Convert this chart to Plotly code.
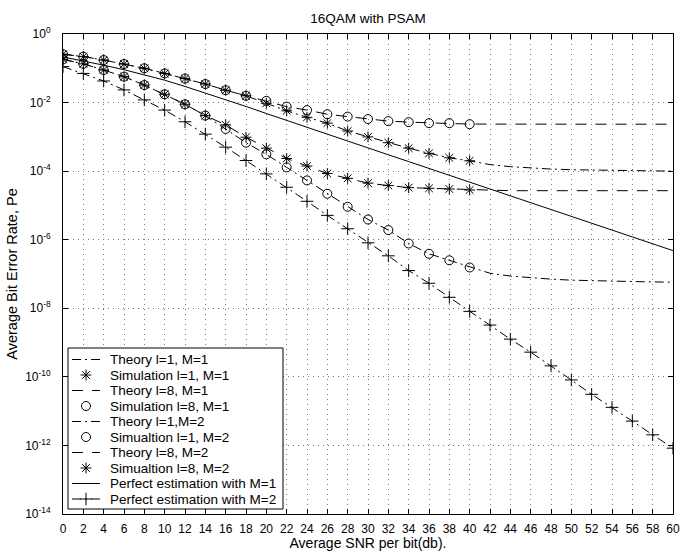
import plotly.graph_objects as go

# SNR grids (dB)
snr_theory = list(range(0, 61, 2))
snr_sim = list(range(0, 41, 2))

# Theory curves (0..60 dB)
theory_l1_m1 = [2.57e-1, 2.19e-1, 1.74e-1, 1.33e-1, 1.00e-1, 7.08e-2, 5.01e-2, 3.47e-2,
                2.29e-2, 1.58e-2, 9.55e-3, 5.75e-3, 3.72e-3, 2.51e-3, 1.48e-3, 1.00e-3,
                6.76e-4, 4.68e-4, 3.31e-4, 2.45e-4, 2.00e-4, 1.55e-4, 1.35e-4, 1.23e-4,
                1.15e-4, 1.10e-4, 1.07e-4, 1.05e-4, 1.02e-4, 1.01e-4, 1.00e-4]
theory_l8_m1 = [2.57e-1, 2.19e-1, 1.74e-1, 1.33e-1, 1.00e-1, 7.08e-2, 5.01e-2, 3.47e-2,
                2.29e-2, 1.58e-2, 1.12e-2, 7.59e-3, 6.03e-3, 4.57e-3, 3.89e-3, 3.31e-3,
                2.88e-3, 2.69e-3, 2.51e-3, 2.45e-3, 2.36e-3, 2.34e-3, 2.34e-3, 2.34e-3,
                2.34e-3, 2.34e-3, 2.34e-3, 2.34e-3, 2.34e-3, 2.34e-3, 2.34e-3]
theory_l1_m2 = [1.82e-1, 1.35e-1, 8.91e-2, 5.69e-2, 3.24e-2, 1.74e-2, 8.91e-3, 4.17e-3,
                1.70e-3, 6.76e-4, 3.09e-4, 1.29e-4, 5.37e-5, 2.19e-5, 9.12e-6, 3.89e-6,
                1.91e-6, 7.76e-7, 3.89e-7, 2.51e-7, 1.55e-7, 1.05e-7, 8.70e-8, 7.76e-8,
                7.08e-8, 6.61e-8, 6.31e-8, 6.17e-8, 6.03e-8, 5.89e-8, 5.75e-8]
theory_l8_m2 = [1.82e-1, 1.35e-1, 8.91e-2, 5.69e-2, 3.24e-2, 1.74e-2, 8.91e-3, 4.17e-3,
                2.24e-3, 9.77e-4, 4.68e-4, 2.34e-4, 1.41e-4, 8.51e-5, 6.17e-5, 4.47e-5,
                3.80e-5, 3.31e-5, 3.16e-5, 3.02e-5, 2.82e-5, 2.72e-5, 2.69e-5, 2.69e-5,
                2.69e-5, 2.69e-5, 2.69e-5, 2.69e-5, 2.69e-5, 2.69e-5, 2.69e-5]

# Simulation points (0..40 dB)
sim_l1_m1 = [2.57e-1, 2.19e-1, 1.74e-1, 1.33e-1, 1.00e-1, 7.08e-2, 5.01e-2, 3.47e-2,
             2.29e-2, 1.58e-2, 9.55e-3, 5.75e-3, 3.72e-3, 2.51e-3, 1.48e-3, 1.00e-3,
             6.76e-4, 4.68e-4, 3.31e-4, 2.45e-4, 2.00e-4]
sim_l8_m1 = [2.57e-1, 2.19e-1, 1.74e-1, 1.33e-1, 1.00e-1, 7.08e-2, 5.01e-2, 3.47e-2,
             2.29e-2, 1.58e-2, 1.12e-2, 7.59e-3, 6.03e-3, 4.57e-3, 3.89e-3, 3.31e-3,
             2.88e-3, 2.69e-3, 2.51e-3, 2.51e-3, 2.34e-3]
sim_l1_m2 = [1.82e-1, 1.35e-1, 8.91e-2, 5.69e-2, 3.24e-2, 1.74e-2, 8.91e-3, 4.17e-3,
             1.70e-3, 6.76e-4, 3.09e-4, 1.29e-4, 5.37e-5, 2.19e-5, 9.12e-6, 3.89e-6,
             1.91e-6, 7.76e-7, 3.89e-7, 2.51e-7, 1.55e-7]
sim_l8_m2 = [1.82e-1, 1.35e-1, 8.91e-2, 5.69e-2, 3.24e-2, 1.74e-2, 8.91e-3, 4.17e-3,
             2.24e-3, 9.77e-4, 4.68e-4, 2.34e-4, 1.41e-4, 8.51e-5, 6.17e-5, 4.47e-5,
             3.80e-5, 3.31e-5, 3.16e-5, 3.02e-5, 2.82e-5]

# Perfect channel estimation
perfect_m1 = [2.14e-1, 1.66e-1, 1.23e-1, 9.10e-2, 6.50e-2, 4.50e-2, 2.95e-2, 1.90e-2,
              1.20e-2, 7.70e-3, 4.80e-3, 3.00e-3, 1.90e-3, 1.20e-3, 7.60e-4, 4.80e-4,
              3.00e-4, 1.90e-4, 1.20e-4, 7.60e-5, 4.80e-5, 3.00e-5, 1.90e-5, 1.20e-5,
              7.60e-6, 4.80e-6, 3.00e-6, 1.90e-6, 1.20e-6, 7.60e-7, 4.80e-7]
perfect_m2 = [1.12e-1, 7.08e-2, 4.27e-2, 2.34e-2, 1.20e-2, 6.03e-3, 2.75e-3, 1.20e-3,
              5.01e-4, 2.04e-4, 8.32e-5, 3.39e-5, 1.32e-5, 5.13e-6, 2.09e-6, 8.13e-7,
              3.39e-7, 1.26e-7, 5.37e-8, 2.09e-8, 8.13e-9, 3.24e-9, 1.26e-9, 5.25e-10,
              2.09e-10, 8.13e-11, 3.09e-11, 1.29e-11, 5.13e-12, 2.04e-12, 8.32e-13]

legend_labels = ["Theory l=1, M=1", "Simulation l=1, M=1", "Theory l=8, M=1",
                 "Simulation l=8, M=1", "Theory l=1,M=2", "Simualtion l=1, M=2",
                 "Theory l=8, M=2", "Simualtion l=8, M=2",
                 "Perfect estimation with M=1", "Perfect estimation with M=2"]

x_ticks = list(range(0, 61, 2))
y_exponents = [0, -2, -4, -6, -8, -10, -12, -14]

FONT = "Liberation Sans, Arial, Helvetica, sans-serif"
DASHED = "11px,9px"
DASHDOT = "9px,4px,2px,4px"
K = "black"

# (series x, series y, dash or None, marker symbol or None, marker size)
series = [
    (snr_theory, theory_l1_m1, DASHDOT, None, 0),
    (snr_sim, sim_l1_m1, None, "asterisk-open", 9),
    (snr_theory, theory_l8_m1, DASHED, None, 0),
    (snr_sim, sim_l8_m1, None, "circle-open", 9),
    (snr_theory, theory_l1_m2, DASHDOT, None, 0),
    (snr_sim, sim_l1_m2, None, "circle-open", 9),
    (snr_theory, theory_l8_m2, DASHED, None, 0),
    (snr_sim, sim_l8_m2, None, "asterisk-open", 9),
    (snr_theory, perfect_m1, "solid", None, 0),
    (snr_theory, perfect_m2, DASHDOT, "cross-thin-open", 9),
]

fig = go.Figure()

for (xs, ys, dash, sym, size), name in zip(series, legend_labels):
    if dash and sym:
        mode = "lines+markers"
    elif dash:
        mode = "lines"
    else:
        mode = "markers"
    fig.add_trace(go.Scatter(
        x=xs, y=ys, mode=mode, name=name, showlegend=False,
        line=dict(color=K, width=1, dash=dash or "solid"),
        marker=dict(symbol=sym or "circle", size=size, color=K,
                    line=dict(color=K, width=1)),
    ))

# Legend drawn in pixel units of the plotting area (x2/y2 overlay)
PLOT_W, PLOT_H = 610, 480
box_left, box_right, box_top, box_bottom = 5, 220, 314, 475
row0, row_step = 325.5, 15.5
samp_x0, samp_x1, samp_mid, text_x = 9, 37, 23, 45

# white legend panel with black frame (covers the grid behind it)
fig.add_trace(go.Scatter(
    x=[box_left, box_right, box_right, box_left, box_left],
    y=[box_top, box_top, box_bottom, box_bottom, box_top],
    xaxis="x2", yaxis="y2", mode="lines", fill="toself", fillcolor="white",
    line=dict(color=K, width=1), showlegend=False, hoverinfo="skip"))

for i, ((xs, ys, dash, sym, size), name) in enumerate(zip(series, legend_labels)):
    ry = row0 + i * row_step
    if dash:
        fig.add_trace(go.Scatter(
            x=[samp_x0, samp_x1], y=[ry, ry], xaxis="x2", yaxis="y2",
            mode="lines", showlegend=False, hoverinfo="skip",
            line=dict(color=K, width=1, dash=dash)))
    if sym:
        fig.add_trace(go.Scatter(
            x=[samp_mid], y=[ry], xaxis="x2", yaxis="y2",
            mode="markers", showlegend=False, hoverinfo="skip",
            marker=dict(symbol=sym, size=size, color=K,
                        line=dict(color=K, width=1))))
    fig.add_annotation(x=text_x, y=ry, xref="x2", yref="y2", text=name,
                       showarrow=False, xanchor="left", yanchor="middle",
                       font=dict(family=FONT, size=13.5, color=K))

axis_common = dict(
    showline=True, linecolor=K, linewidth=1, mirror="ticks",
    ticks="inside", ticklen=5, tickcolor=K, tickwidth=1,
    showgrid=True, gridcolor="#7a7a7a", gridwidth=1, griddash="1px,4px",
    zeroline=False, automargin=False,
    tickfont=dict(family=FONT, size=12, color=K),
)

fig.update_layout(
    width=689, height=551,
    margin=dict(l=63, r=16, t=34, b=37, autoexpand=False),
    paper_bgcolor="white", plot_bgcolor="white",
    font=dict(family=FONT, size=12, color=K),
    title=dict(text="16QAM with PSAM", x=0.5, xref="paper", xanchor="center",
               y=1 - 18 / 551, yref="container", yanchor="middle",
               automargin=False,
               font=dict(family=FONT, size=13.5, color=K)),
    xaxis=dict(range=[0, 60], tickvals=x_ticks, ticktext=[str(v) for v in x_ticks],
               ticklabelstandoff=4,
               title=dict(text="Average SNR per bit(db).", standoff=5,
                          font=dict(family=FONT, size=14, color=K)),
               **axis_common),
    yaxis=dict(type="log", range=[-14, 0],
               tickvals=[10.0 ** e for e in y_exponents],
               ticktext=[f"10<sup>{e}</sup>" for e in y_exponents],
               ticklabelstandoff=9,
               title=dict(text="Average Bit Error Rate, Pe", standoff=4,
                          font=dict(family=FONT, size=14.5, color=K)),
               **axis_common),
    xaxis2=dict(overlaying="x", anchor="y2", range=[0, PLOT_W], visible=False,
                fixedrange=True, automargin=False),
    yaxis2=dict(overlaying="y", anchor="x2", range=[PLOT_H, 0], visible=False,
                fixedrange=True, automargin=False),
)

fig.write_html("out.html")
